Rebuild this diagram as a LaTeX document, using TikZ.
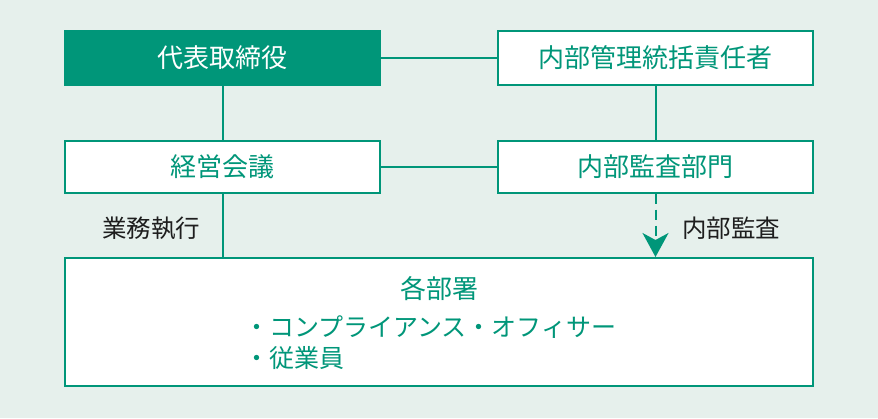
\documentclass[tikz,border=0pt]{standalone}
\usepackage{fontspec}
\setmainfont{Noto Sans CJK JP}
\usetikzlibrary{arrows.meta}
\definecolor{tealg}{RGB}{0,150,121}
\definecolor{bgc}{RGB}{230,240,236}
\definecolor{txt}{RGB}{30,30,30}
\tikzset{
  x=1pt,y=-1pt,
  box/.style={draw=tealg,line width=2pt,fill=white,inner sep=0pt,text=tealg,font=\fontsize{26}{30}\selectfont},
  topbox/.style={box,fill=tealg,text=white},
  link/.style={draw=tealg,line width=2pt},
  lbl/.style={text=txt,font=\fontsize{24.5}{28}\selectfont,inner sep=0pt},
  bul/.style={text=tealg,font=\fontsize{25}{30}\selectfont,inner sep=0pt,anchor=west},
}
\begin{document}
\begin{tikzpicture}
\fill[bgc] (0,0) rectangle (878,418);
\useasboundingbox (0,0) rectangle (878,418);
\node[topbox,minimum width=315pt,minimum height=54pt] (ceo) at (222.5,58) {代表取締役};
\node[box,minimum width=315pt,minimum height=54pt] (ctl) at (655.5,58) {内部管理統括責任者};
\node[box,minimum width=315pt,minimum height=52pt] (mtg) at (222.5,166.5) {経営会議};
\node[box,minimum width=315pt,minimum height=52pt] (aud) at (655.5,166.5) {内部監査部門};
\node[box,minimum width=748pt,minimum height=128pt] (dep) at (439,322) {};
\node[text=tealg,font=\fontsize{26}{30}\selectfont,inner sep=0pt] (deptitle) at (439,289) {各部署};
\node[bul] (b1) at (244,327) {・コンプライアンス・オフィサー};
\node[bul] (b2) at (244,358) {・従業員};
\draw[link] (ceo.east) -- (ctl.west);
\draw[link] (mtg.east) -- (aud.west);
\draw[link] (ceo.south) -- (mtg.north);
\draw[link] (ctl.south-|aud.north) -- (aud.north);
\draw[link] (mtg.south) -- (mtg.south|-dep.north);
\draw[link,dash pattern=on 10pt off 6pt,-{Stealth[length=24pt,width=26pt,inset=7pt]}] (aud.south) -- (aud.south|-dep.north);
\node[lbl] (l1) at (151,228) {業務執行};
\node[lbl] (l2) at (731,228) {内部監査};
\end{tikzpicture}
\end{document}
